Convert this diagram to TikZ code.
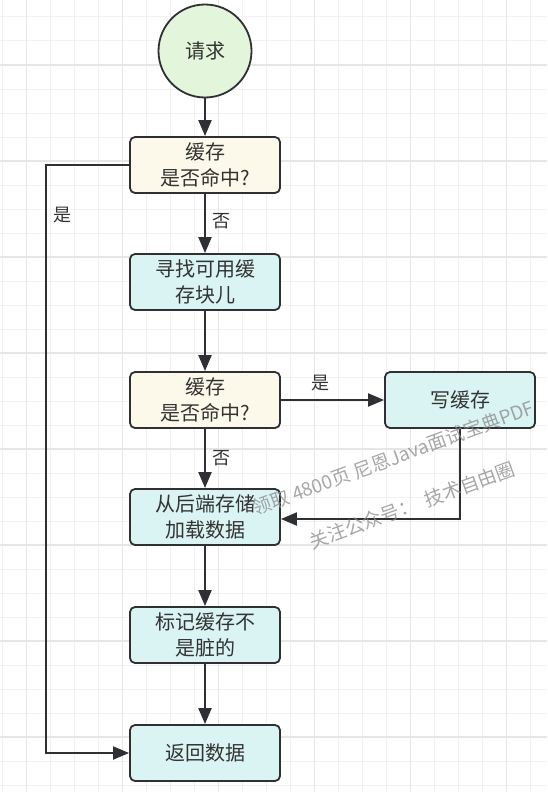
\documentclass[tikz,border=0pt]{standalone}
\usepackage{fontspec}
\setmainfont{Noto Sans CJK SC}
\usetikzlibrary{arrows.meta,positioning,calc}
\definecolor{edgec}{HTML}{2F3033}
\definecolor{txtc}{HTML}{333333}
\definecolor{creamc}{HTML}{FCF8EA}
\definecolor{cyanc}{HTML}{DAF3F3}
\definecolor{greenc}{HTML}{E3F5DA}
\definecolor{gridminor}{HTML}{F1F1F1}
\definecolor{gridmajor}{HTML}{E6E6E6}
\definecolor{wmc}{HTML}{8A8A8A}
\tikzset{
  box/.style={draw=edgec, line width=1.8pt, rounded corners=5pt, minimum width=150pt,
    minimum height=56pt, align=center, text=txtc, inner sep=0pt,
    font=\fontsize{20}{26}\selectfont},
  creambox/.style={box, fill=creamc},
  cyanbox/.style={box, fill=cyanc},
  startnode/.style={circle, draw=edgec, line width=1.8pt, fill=greenc, minimum size=93pt,
    inner sep=0pt, text=txtc, font=\fontsize{20}{26}\selectfont},
  arr/.style={draw=edgec, line width=2pt, -{Triangle[length=16pt,width=13pt]}},
  lbl/.style={text=txtc, font=\fontsize{18}{18}\selectfont, inner sep=0pt},
  wm/.style={text=wmc, text opacity=0.75, font=\fontsize{19}{19}\selectfont, rotate=20, inner sep=0pt}
}
\begin{document}
\begin{tikzpicture}[x=1pt,y=-1pt]
\useasboundingbox (0,0) rectangle (547,792);
\fill[white] (0,0) rectangle (547,792);
% grid
\foreach \i in {0,...,22} {
  \draw[gridminor, line width=1pt] ({2.7+24*\i},0) -- ({2.7+24*\i},792);
}
\foreach \i in {0,...,32} {
  \draw[gridminor, line width=1pt] (0,{17+24*\i}) -- (547,{17+24*\i});
}
\foreach \i in {0,...,5} {
  \draw[gridmajor, line width=1.2pt] ({26.7+96*\i},0) -- ({26.7+96*\i},792);
}
\foreach \i in {0,...,8} {
  \draw[gridmajor, line width=1.2pt] (0,{65+96*\i}) -- (547,{65+96*\i});
}
% nodes
\node[startnode] (start) at (205,51) {请求};
\node[creambox] (q1) at (205,165) {缓存\\是否命中?};
\node[cyanbox] (find) at (205,282) {寻找可用缓\\存块儿};
\node[creambox] (q2) at (205,400) {缓存\\是否命中?};
\node[cyanbox] (write) at (460,400) {写缓存};
\node[cyanbox] (load) at (205,517) {从后端存储\\加载数据};
\node[cyanbox] (mark) at (205,635) {标记缓存不\\是脏的};
\node[cyanbox] (ret) at (205,753) {返回数据};
% edges
\draw[arr] (start) -- (q1);
\draw[arr] (q1) -- (find);
\draw[arr] (find) -- (q2);
\draw[arr] (q2) -- (write);
\draw[arr] (q2) -- (load);
\draw[arr] (write.south) |- ($(load.east)+(0,2)$);
\draw[arr] (load) -- (mark);
\draw[arr] (mark) -- (ret);
\coordinate (lc) at (46,165);
\draw[arr] (q1.west) -- (lc) |- (ret.west);
% labels
\node[lbl] (l1) at (62,215) {是};
\node[lbl] (l2) at (221,221) {否};
\node[lbl] (l3) at (320,383) {是};
\node[lbl] (l4) at (221,458) {否};
% watermark
\node[wm] (wm1) at (393,458) {领取 4800页 尼恩Java面试宝典PDF};
\node[wm] (wm2) at (412,505) {关注公众号：\ \ 技术自由圈};
\end{tikzpicture}
\end{document}
